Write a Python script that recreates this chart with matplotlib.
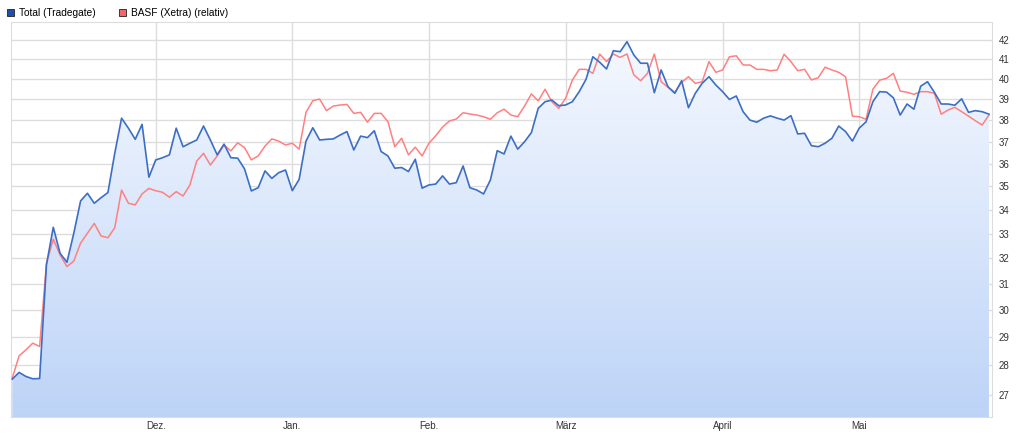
import matplotlib
matplotlib.use("Agg")
import matplotlib.pyplot as plt
import numpy as np
from matplotlib.patches import Polygon, Patch
from matplotlib.ticker import FixedLocator, NullLocator, NullFormatter

# Kursdaten (Handelstage)
total = [27.53, 27.76, 27.62, 27.54, 27.55, 31.74, 33.26, 32.20, 31.84, 33.01,
         34.37, 34.70, 34.27, 34.51, 34.73, 36.47, 38.10, 37.63, 37.11, 37.81,
         35.40, 36.17, 36.27, 36.40, 37.63, 36.77, 36.93, 37.08, 37.73, 37.08,
         36.40, 36.89, 36.27, 36.25, 35.77, 34.80, 34.94, 35.68, 35.35, 35.60,
         35.72, 34.81, 35.31, 37.03, 37.65, 37.08, 37.11, 37.13, 37.31, 37.47,
         36.62, 37.26, 37.19, 37.51, 36.55, 36.35, 35.80, 35.83, 35.65, 36.20,
         34.92, 35.06, 35.10, 35.46, 35.10, 35.16, 35.90, 34.94, 34.84, 34.67,
         35.28, 36.59, 36.44, 37.26, 36.66, 37.00, 37.42, 38.57, 38.89, 38.97,
         38.70, 38.73, 38.89, 39.38, 39.99, 41.13, 40.85, 40.51, 41.44, 41.39,
         41.91, 41.22, 40.80, 40.80, 39.33, 40.46, 39.62, 39.30, 39.92, 38.60,
         39.30, 39.79, 40.12, 39.71, 39.38, 39.00, 39.17, 38.41, 38.01, 37.91,
         38.10, 38.21, 38.10, 38.01, 38.22, 37.36, 37.39, 36.82, 36.77, 36.93,
         37.16, 37.73, 37.47, 37.03, 37.63, 37.93, 38.89, 39.38, 39.36, 39.08,
         38.25, 38.78, 38.53, 39.65, 39.87, 39.35, 38.78, 38.78, 38.72, 39.03,
         38.38, 38.46, 38.41, 38.29]

basf = [27.57, 28.34, 28.55, 28.79, 28.67, 31.80, 32.77, 32.13, 31.67, 31.89,
        32.61, 33.01, 33.42, 32.90, 32.83, 33.24, 34.84, 34.27, 34.20, 34.67,
        34.91, 34.81, 34.74, 34.53, 34.77, 34.58, 35.06, 36.12, 36.47, 35.94,
        36.35, 36.85, 36.58, 36.95, 36.73, 36.17, 36.35, 36.80, 37.13, 37.03,
        36.85, 36.93, 36.66, 38.38, 38.94, 39.02, 38.46, 38.68, 38.73, 38.76,
        38.33, 38.38, 37.91, 38.33, 38.33, 37.93, 36.77, 37.16, 36.40, 36.75,
        36.35, 36.93, 37.28, 37.68, 37.97, 38.06, 38.36, 38.30, 38.25, 38.17,
        38.05, 38.36, 38.53, 38.25, 38.17, 38.68, 39.27, 38.93, 39.50, 38.89,
        38.57, 39.05, 39.95, 40.49, 40.49, 40.29, 41.27, 40.88, 41.27, 41.10,
        41.27, 40.21, 39.92, 40.29, 41.27, 39.87, 39.60, 39.35, 39.84, 40.12,
        39.79, 39.87, 40.88, 40.34, 40.46, 41.13, 41.18, 40.71, 40.71, 40.49,
        40.49, 40.42, 40.46, 41.26, 40.88, 40.42, 40.49, 39.96, 40.07, 40.60,
        40.46, 40.34, 40.12, 38.20, 38.17, 38.05, 39.50, 39.95, 40.04, 40.29,
        39.41, 39.35, 39.25, 39.38, 39.38, 39.30, 38.29, 38.49, 38.62, 38.41,
        38.20, 37.98, 37.78, 38.25]

month_pos = [21, 41, 61, 81, 104, 124]
month_labels = ["Dez.", "Jan.", "Feb.", "März", "April", "Mai"]
y_ticks = list(range(27, 43))

plt.rcParams["font.family"] = ["Liberation Sans", "DejaVu Sans"]

fig = plt.figure(figsize=(10.23, 4.33), dpi=100)
ax = fig.add_axes([11 / 1023, 16 / 433, 981 / 1023, 395 / 433])

x = np.arange(len(total))
ax.set_yscale("log")

# Flaeche unter der blauen Linie mit Verlauf
poly = Polygon(np.column_stack([np.r_[x[0], x, x[-1]], np.r_[20, total, 20]]),
               closed=True, facecolor="none", edgecolor="none")
ax.add_patch(poly)
top = np.array([0.97, 0.98, 1.0])
bottom = np.array([0.74, 0.83, 0.97])
t = np.linspace(0, 1, 256)[:, None]
grad = top + (bottom - top) * t
im = ax.imshow(grad[:, None, :], extent=(0, 1, 0, 1), transform=ax.transAxes,
               aspect="auto", zorder=1, interpolation="bilinear")
im.set_clip_path(poly)
ax.set_xlim(-0.19, 143.44)
ax.set_ylim(26.26, 42.95)

ax.plot(x, basf, color="#ff8080", lw=1.1, zorder=3)
ax.plot(x, total, color="#3c6ec6", lw=1.2, zorder=4)

# Achsen und Gitter
ax.yaxis.tick_right()
ax.yaxis.set_major_locator(FixedLocator(y_ticks))
ax.yaxis.set_minor_locator(NullLocator())
ax.yaxis.set_minor_formatter(NullFormatter())
ax.set_yticklabels([str(v) for v in y_ticks])
ax.set_xticks(month_pos)
ax.set_xticklabels(month_labels)
ax.tick_params(axis="both", length=0, labelsize=7, colors="#333333")
ax.tick_params(axis="y", pad=5)
ax.tick_params(axis="x", pad=3)
ax.grid(True, color="#dddddd", lw=1, zorder=0)
ax.set_axisbelow(True)
for s in ax.spines.values():
    s.set_color("#dddddd")

handles = [Patch(facecolor="#1f4fa8", edgecolor="#222222", lw=0.6),
           Patch(facecolor="#f06868", edgecolor="#222222", lw=0.6)]
fig.legend(handles, ["Total (Tradegate)", "BASF (Xetra) (relativ)"],
           loc="upper left", bbox_to_anchor=(-0.002, 1.002), ncol=2, frameon=False,
           fontsize=7.3, handlelength=0.7, handleheight=0.7, handletextpad=0.5,
           columnspacing=2.3)

fig.savefig("out.png", dpi=100)
